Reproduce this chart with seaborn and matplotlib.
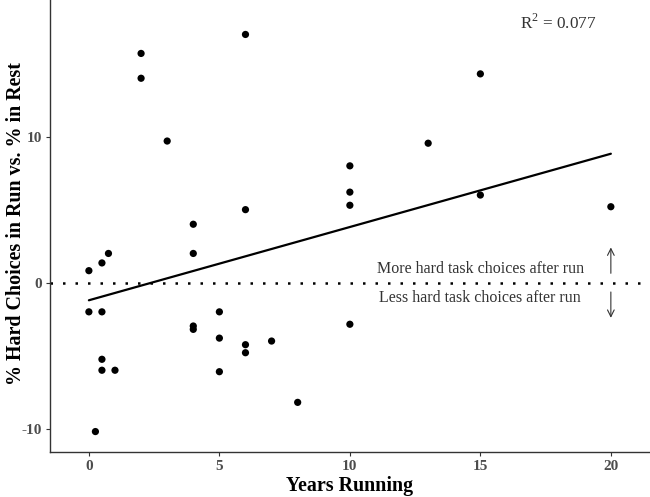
import matplotlib
matplotlib.use("Agg")
import matplotlib.pyplot as plt
import seaborn as sns
import numpy as np
import pandas as pd

years = [2, 2, 6, 3, 4, 6,
         0, 0.5, 0.75, 4, 0, 0.5, 0.5, 0.5, 1, 0.25, 4, 4, 5, 5, 5, 6, 6, 7, 8,
         15, 13, 10, 10, 10, 15, 20, 10]
diff = [15.7, 14.0, 17.0, 9.7, 4.0, 5.0,
        0.82, 1.35, 2.0, 2.0, -2.0, -2.0, -5.25, -6.0, -6.0, -10.2, -2.97, -3.2, -2.0, -3.8, -6.1, -4.25, -4.8, -4.0, -8.2,
        14.3, 9.55, 8.0, 6.2, 5.3, 6.0, 5.2, -2.85]
xticks = [0, 5, 10, 15, 20]
yticks = [-10, 0, 10]
r2_label = "R$^2$ = 0.077"
label_more = "More hard task choices after run"
label_less = "Less hard task choices after run"

df = pd.DataFrame({"Years Running": years, "diff": diff})

sns.set_theme(style="white")
plt.rcParams['font.family'] = ['Liberation Serif', 'DejaVu Serif']
plt.rcParams['mathtext.fontset'] = 'custom'
plt.rcParams['mathtext.rm'] = 'Liberation Serif'

fig = plt.figure(figsize=(6.5, 4.97), dpi=100)
ax = fig.add_axes([50/650, 45/497, 600/650, 452/497])

ax.axhline(0, color="black", lw=1.8, linestyle=(0, (1, 4.0)), zorder=1)
sns.regplot(data=df, x="Years Running", y="diff", ci=None, ax=ax,
            scatter_kws=dict(s=27, color="black", edgecolor="none", alpha=1, zorder=3),
            line_kws=dict(color="black", lw=1.6, zorder=2))

ax.set_xlim(-1.49, 21.5)
ax.set_ylim(-11.6, 19.36)
ax.set_xticks(xticks)
ax.set_yticks(yticks)
ax.set_xticklabels([str(t) for t in xticks], fontsize=11, fontweight="bold", color="#4D4D4D")
ax.set_yticklabels([str(t) for t in yticks], fontsize=11, fontweight="bold", color="#4D4D4D")
ax.tick_params(axis="both", which="major", length=3, width=0.8, color="#333333",
               bottom=True, left=True, pad=2.5)

for s in ["top", "right"]:
    ax.spines[s].set_visible(False)
for s in ["left", "bottom"]:
    ax.spines[s].set_color("#333333")
    ax.spines[s].set_linewidth(1.0)

ax.set_xlabel("Years Running", fontsize=14.4, fontweight="bold", color="black", va="top")
ax.set_ylabel("% Hard Choices in Run vs. % in Rest", fontsize=14.4, fontweight="bold", color="black")
ax.xaxis.set_label_coords(0.5, (452 - 476) / 452)
ax.yaxis.set_label_coords((26 - 50) / 600, 0.505)

ax.text(18.0, 17.8, r2_label, fontsize=12.3, color="#333333", ha="center", va="center")
ax.text(15.0, 0.95, label_more, fontsize=11.5, color="#333333", ha="center", va="center")
ax.text(15.0, -1.05, label_less, fontsize=11.5, color="#333333", ha="center", va="center")
ax.annotate("", xy=(20, 2.6), xytext=(20, 0.45),
            arrowprops=dict(arrowstyle="->", color="#333333", lw=0.8))
ax.annotate("", xy=(20, -2.6), xytext=(20, -0.45),
            arrowprops=dict(arrowstyle="->", color="#333333", lw=0.8))

fig.savefig("out.png", dpi=100)
